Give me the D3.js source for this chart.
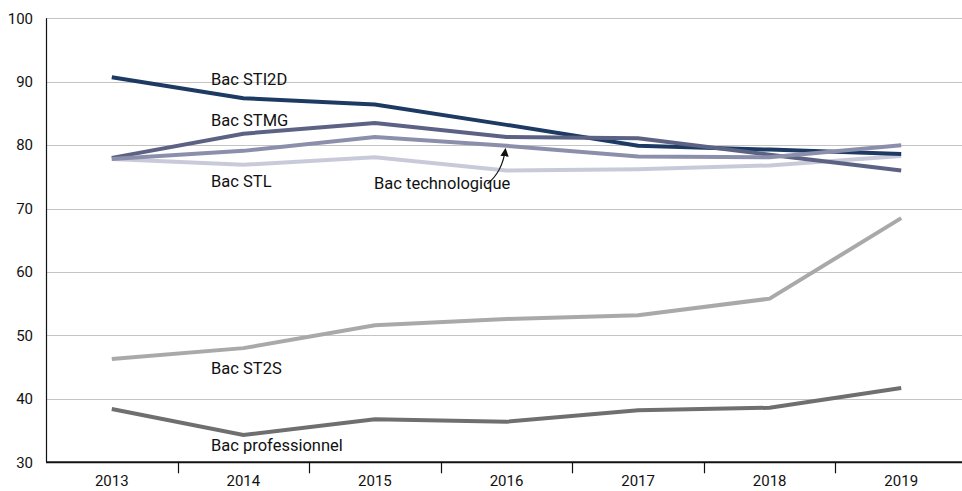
<!DOCTYPE html>
<html><head><meta charset="utf-8">
<script src="https://cdn.jsdelivr.net/npm/d3@7/dist/d3.min.js"></script>
<style>
html,body{margin:0;padding:0;background:#fff;}
svg{display:block;font-family:Roboto,"Liberation Sans",Arial,sans-serif;}
</style></head>
<body><svg id="c" width="962" height="491"></svg>
<script>
const years = ["2013","2014","2015","2016","2017","2018","2019"];
const yTicks = [30,40,50,60,70,80,90,100];
const bacSTL = [77.8,76.9,78.1,76.0,76.2,76.8,78.3];
const bacSTI2D = [90.7,87.4,86.4,83.2,79.9,79.3,78.6];
const bacSTMG = [78.0,81.8,83.5,81.3,81.1,78.5,76.0];
const bacTechno = [77.8,79.1,81.3,79.9,78.2,78.1,80.0];
const bacST2S = [46.3,48.0,51.6,52.6,53.2,55.8,68.5];
const bacPro = [38.4,34.3,36.8,36.4,38.2,38.6,41.7];
const seriesNames = ["Bac STL","Bac ST2S","Bac professionnel","Bac STI2D","Bac STMG","Bac technologique"];

const series = [
  {name:"Bac STL", values:bacSTL, color:"#c9cad9", lx:211, ly:187},
  {name:"Bac ST2S", values:bacST2S, color:"#a9a9a9", lx:211, ly:374},
  {name:"Bac professionnel", values:bacPro, color:"#6f6f6f", lx:211, ly:451},
  {name:"Bac STI2D", values:bacSTI2D, color:"#1d3a63", lx:211, ly:85},
  {name:"Bac STMG", values:bacSTMG, color:"#5b6284", lx:211, ly:126},
  {name:"Bac technologique", values:bacTechno, color:"#8c8fab", lx:374, ly:189}
];

const svg = d3.select("#c");
const x = d3.scaleBand().domain(years).range([46, 967]).paddingInner(0).paddingOuter(0);
const y = d3.scaleLinear().domain([30,100]).range([462.3, 18.3]);
const cx = d => x(d) + x.bandwidth()/2;

// gridlines
svg.append("g").selectAll("line").data(yTicks.filter(t => t > 30)).join("line")
  .attr("x1", 46).attr("x2", 962)
  .attr("y1", d => Math.round(y(d)) + 0.5).attr("y2", d => Math.round(y(d)) + 0.5)
  .attr("stroke", "#c4c4c4").attr("stroke-width", 1.2);

// y labels
svg.append("g").selectAll("text").data(yTicks).join("text")
  .attr("x", 33).attr("y", d => y(d)).attr("dy", "0.35em")
  .attr("text-anchor", "end").attr("font-size", 15).attr("fill", "#111")
  .text(d => d);

// y axis line
svg.append("line").attr("x1", 46.5).attr("x2", 46.5).attr("y1", y(100)).attr("y2", y(30))
  .attr("stroke", "#111").attr("stroke-width", 1.2);

// lines
const line = d3.line().x((d,i) => cx(years[i])).y(d => y(d));
svg.append("g").selectAll("path").data(series).join("path")
  .attr("d", d => line(d.values))
  .attr("fill", "none").attr("stroke", d => d.color).attr("stroke-width", 4)
  .attr("stroke-linejoin", "miter");

// x axis
svg.append("line").attr("x1", 46).attr("x2", 962).attr("y1", y(30)).attr("y2", y(30))
  .attr("stroke", "#111").attr("stroke-width", 2);
svg.append("g").selectAll("line").data(years.slice(1)).join("line")
  .attr("x1", d => Math.round(x(d)) + 0.5).attr("x2", d => Math.round(x(d)) + 0.5)
  .attr("y1", y(30)).attr("y2", y(30) + 11)
  .attr("stroke", "#111").attr("stroke-width", 1.2);
svg.append("g").selectAll("text").data(years).join("text")
  .attr("x", d => cx(d)).attr("y", 486)
  .attr("text-anchor", "middle").attr("font-size", 15).attr("fill", "#111")
  .text(d => d);

// series labels
svg.append("g").selectAll("text").data(series).join("text")
  .attr("x", d => d.lx).attr("y", d => d.ly)
  .attr("font-size", 16.5).attr("fill", "#111")
  .text(d => d.name);

// arrow for Bac technologique
svg.append("defs").append("marker").attr("id","ah")
  .attr("viewBox","0 0 10 10").attr("refX",9).attr("refY",5)
  .attr("markerWidth",7).attr("markerHeight",7).attr("orient","auto")
  .append("path").attr("d","M0,0 L10,5 L0,10 Z").attr("fill","#111");
const ax = cx("2016"), ay = y(bacTechno[3]);
svg.append("path")
  .attr("d", `M${ax-19},${ay+38} Q${ax-4},${ay+26} ${ax-1},${ay+3}`)
  .attr("fill","none").attr("stroke","#111").attr("stroke-width",1.2)
  .attr("marker-end","url(#ah)");
</script></body></html>
